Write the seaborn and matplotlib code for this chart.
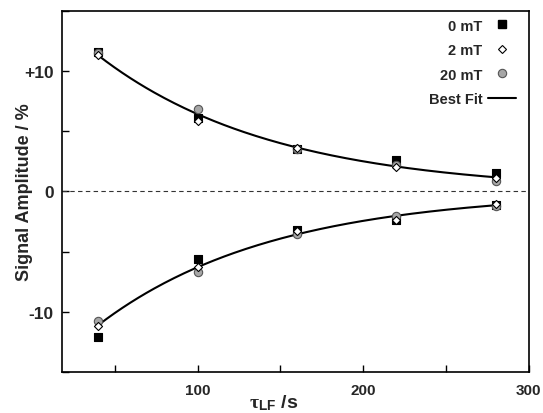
import numpy as np
import pandas as pd
import matplotlib
matplotlib.use("Agg")
import matplotlib.pyplot as plt
import seaborn as sns
from matplotlib.lines import Line2D
from matplotlib.ticker import MultipleLocator

# --- datos ---
tau_lf = [40, 100, 160, 220, 280]

amp_0mT_pos = [11.6, 6.1, 3.5, 2.6, 1.5]
amp_0mT_neg = [-12.1, -5.6, -3.2, -2.4, -1.1]
amp_2mT_pos = [11.4, 5.9, 3.6, 2.0, 1.1]
amp_2mT_neg = [-11.2, -6.3, -3.3, -2.4, -1.0]
amp_20mT_pos = [11.5, 6.9, 3.5, 2.2, 0.9]
amp_20mT_neg = [-10.8, -6.7, -3.5, -2.0, -1.2]

campos = ["0 mT", "2 mT", "20 mT"]
y_ticks = [-10, 0, 10]
y_tick_labels = ["-10", "0", "+10"]
x_ticks = [100, 200, 300]

filas = []
for campo, pos, neg in zip(campos,
                           [amp_0mT_pos, amp_2mT_pos, amp_20mT_pos],
                           [amp_0mT_neg, amp_2mT_neg, amp_20mT_neg]):
    for t, a in zip(tau_lf, pos):
        filas.append({"tau": t, "amp": a, "campo": campo, "rama": "pos"})
    for t, a in zip(tau_lf, neg):
        filas.append({"tau": t, "amp": a, "campo": campo, "rama": "neg"})
df = pd.DataFrame(filas)

# ajuste exponencial (log-lineal) para cada rama
t_fit = np.linspace(min(tau_lf), max(tau_lf), 200)
curvas = []
for rama, signo in [("pos", 1), ("neg", -1)]:
    sub = df[df["rama"] == rama]
    pend, inter = np.polyfit(sub["tau"], np.log(np.abs(sub["amp"])), 1)
    curvas.append(pd.DataFrame({"tau": t_fit,
                                "amp": signo * np.exp(inter + pend * t_fit),
                                "rama": rama}))
df_fit = pd.concat(curvas)

sns.set_theme(style="ticks")
plt.rcParams["font.family"] = ["Liberation Sans", "DejaVu Sans"]
plt.rcParams["font.weight"] = "bold"
plt.rcParams["mathtext.fontset"] = "custom"
plt.rcParams["mathtext.it"] = "Liberation Serif:italic"
plt.rcParams["mathtext.rm"] = "Liberation Serif"
plt.rcParams["mathtext.bf"] = "Liberation Sans:bold"

fig = plt.figure(figsize=(5.43, 4.14), dpi=100)
ax = fig.add_axes([0.114, 0.0998, 0.8597, 0.8705])

ax.axhline(0, color="#333333", lw=0.8, ls=(0, (4, 3)), zorder=1)

sns.lineplot(data=df_fit, x="tau", y="amp", units="rama", estimator=None,
             color="black", lw=1.5, ax=ax, zorder=2, legend=False)

estilos = {
    "0 mT": dict(marker="s", s=32, color="black", edgecolor="black", linewidth=0.8, zorder=3),
    "20 mT": dict(marker="o", s=36, color="#a6a6a6", edgecolor="#555555", linewidth=0.8, zorder=4),
    "2 mT": dict(marker="D", s=17, color="white", edgecolor="black", linewidth=0.8, zorder=5),
}
for campo in ["0 mT", "20 mT", "2 mT"]:
    sns.scatterplot(data=df[df["campo"] == campo], x="tau", y="amp",
                    ax=ax, legend=False, **estilos[campo])

ax.set_xlim(18, 300)
ax.set_ylim(-15, 15)
ax.set_xticks(x_ticks)
ax.xaxis.set_minor_locator(MultipleLocator(50))
ax.set_yticks(y_ticks)
ax.set_yticklabels(y_tick_labels)
ax.yaxis.set_minor_locator(MultipleLocator(5))
ax.tick_params(axis="both", which="both", direction="in", length=5, width=1,
               color="black", top=False, right=False)
ax.tick_params(axis="y", labelsize=12.5, pad=6)
ax.tick_params(axis="x", labelsize=11, pad=8)
for lab in ax.get_xticklabels() + ax.get_yticklabels():
    lab.set_fontweight("bold")
for sp in ax.spines.values():
    sp.set_visible(True)
    sp.set_linewidth(1.2)
    sp.set_color("black")

ax.set_ylabel("Signal Amplitude / %", fontsize=13, fontweight="bold")
ax.yaxis.set_label_coords(-0.062, 0.5)
ax.set_xlabel(r"$\mathrm{\tau}_{\mathbf{LF}}$ /s", fontsize=14, fontweight="bold")
ax.xaxis.set_label_coords(0.453, -0.058)

manijas = [
    Line2D([], [], ls="none", marker="s", ms=6, mfc="black", mec="black"),
    Line2D([], [], ls="none", marker="D", ms=4.2, mfc="white", mec="black", mew=0.8),
    Line2D([], [], ls="none", marker="o", ms=6, mfc="#a6a6a6", mec="#555555", mew=0.8),
    Line2D([], [], color="black", lw=1.5),
]
leg = ax.legend(manijas, ["0 mT", "2 mT", "20 mT", "Best Fit"], loc="upper right",
                bbox_to_anchor=(0.985, 0.996),
                frameon=False, markerfirst=False, handlelength=1.9,
                handletextpad=0.4, labelspacing=0.72, fontsize=10.5,
                borderaxespad=0.0)
for txt in leg.get_texts():
    txt.set_fontweight("bold")

plt.savefig("out.png", dpi=100)
plt.close()
